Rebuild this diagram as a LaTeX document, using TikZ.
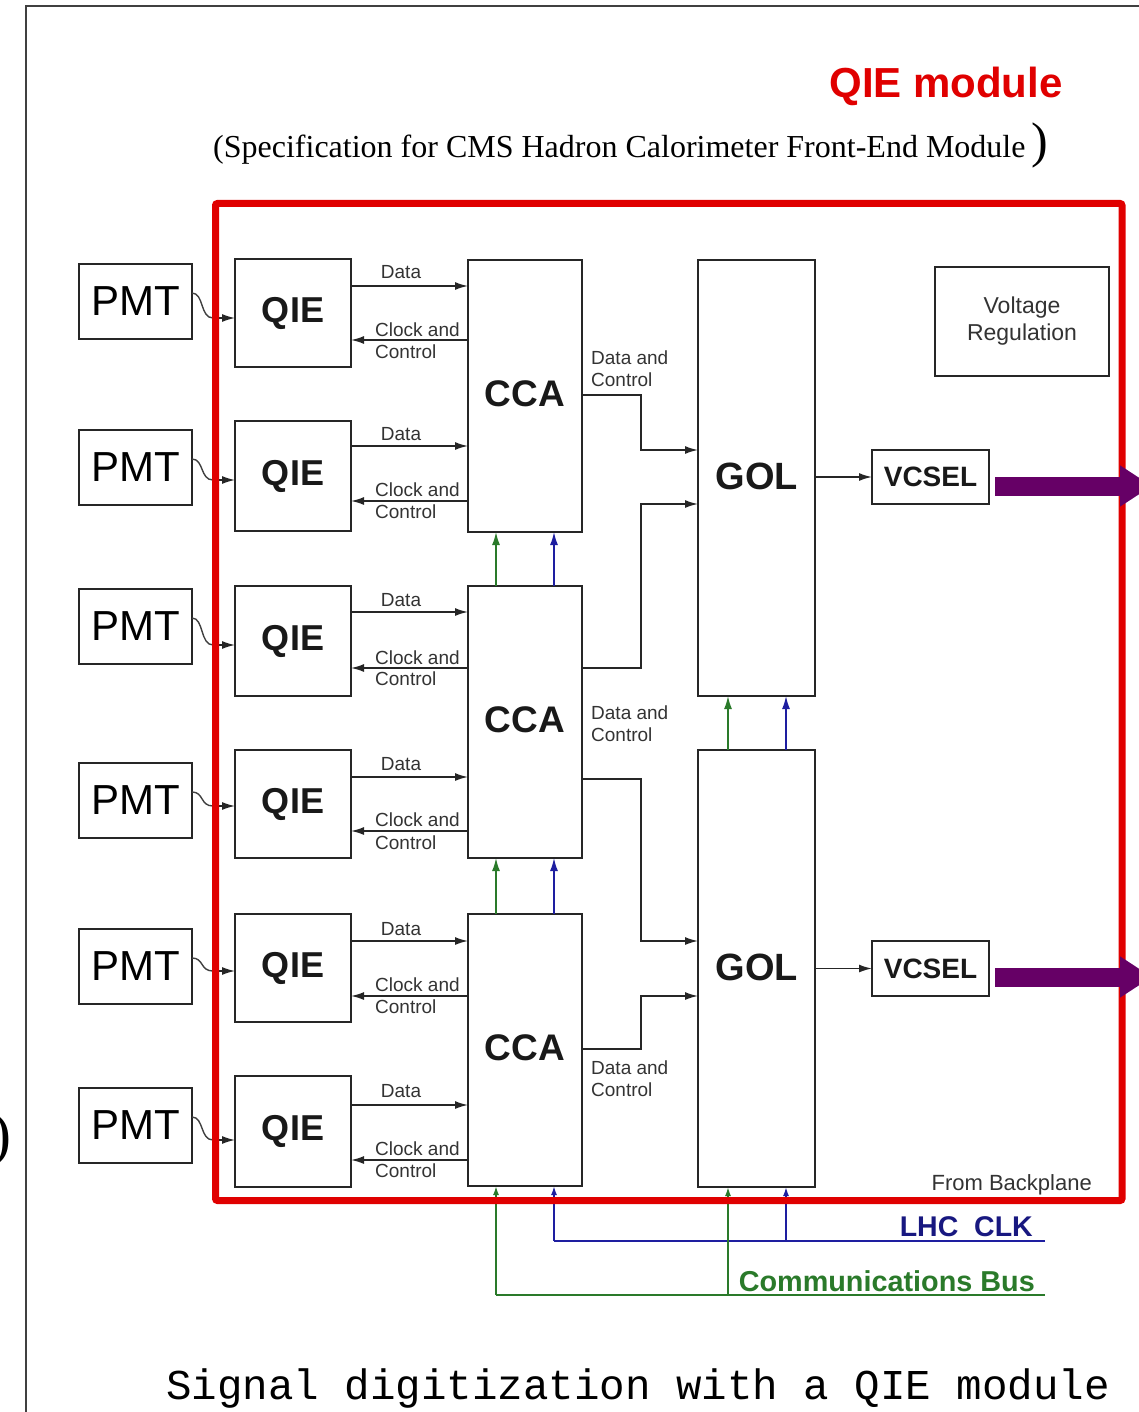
\documentclass[tikz,border=0pt]{standalone}
\usepackage{fontspec}
\setmainfont{Liberation Sans}
\newfontfamily\serifrm{Liberation Serif}
\newfontfamily\monorm{Liberation Mono}
\usetikzlibrary{arrows.meta,calc}
\definecolor{fred}{HTML}{E00000}
\definecolor{fgreen}{HTML}{2A7A2A}
\definecolor{fblue}{HTML}{1E1EA0}
\definecolor{fpurple}{HTML}{660066}
\definecolor{lbl}{HTML}{333333}
\begin{document}
\begin{tikzpicture}[x=1pt,y=-1pt,
  blk/.style={draw=black!85,line width=1.8pt,inner sep=0pt,outer sep=0pt,anchor=north west,fill=white},
  thin/.style={draw=black!85,line width=1.2pt,inner sep=0pt,outer sep=0pt,anchor=north west,fill=white},
  bigt/.style={font=\fontsize{36}{36}\selectfont\bfseries,text=black!90},
  lab/.style={font=\fontsize{19}{19}\selectfont,text=lbl,inner sep=0pt},
  arr/.style={line width=1.6pt,draw=black!85,-{Latex[length=13pt,width=8pt]}},
  garr/.style={line width=1.6pt,draw=fgreen,-{Latex[length=13pt,width=8pt]}},
  barr/.style={line width=1.6pt,draw=fblue,-{Latex[length=13pt,width=8pt]}},
  wave/.style={line width=1.4pt,draw=black!75}
]
\useasboundingbox (0,0) rectangle (1139,1412);
% slide frame
\draw[line width=1.4pt,black!75] (26,1412) -- (26,6) -- (1139,6);
% left cut paren
\node[font=\fontsize{60}{60}\selectfont\serifrm,anchor=east,inner sep=0pt] (lp) at (12,1140) {)};
% titles
\node[font=\fontsize{42}{42}\selectfont\bfseries,text=fred,inner sep=0pt] (title) at (946,86) {QIE module};
\node[font=\fontsize{32}{32}\selectfont\serifrm,anchor=base west,inner sep=0pt] (sub) at (213,158) {(Specification for CMS Hadron Calorimeter Front-End Module};
\node[font=\fontsize{50}{50}\selectfont\serifrm,anchor=base west,inner sep=0pt] (subp) at (1031,158) {)};

% PMTs
\foreach \i/\y in {1/264,2/430,3/589,4/763,5/929,6/1088}{
  \node[thin,minimum width=113pt,minimum height=75pt,font=\fontsize{42}{42}\selectfont] (P\i) at (79,\y) {PMT};
}
% QIEs
\foreach \i/\y/\h in {1/259/108,2/421/110,3/586/110,4/750/108,5/914/108,6/1076/111}{
  \node[blk,minimum width=116pt,minimum height=\h pt,bigt] (Q\i) at (235,\y) {QIE};
}
% CCAs
\foreach \i/\y in {1/260,2/586,3/914}{
  \node[blk,minimum width=114pt,minimum height=272pt] (C\i) at (468,\y) {};
}
\node[bigt,font=\fontsize{37}{37}\selectfont\bfseries] at (525,394) {CCA};
\node[bigt,font=\fontsize{37}{37}\selectfont\bfseries] at (525,720) {CCA};
\node[bigt,font=\fontsize{37}{37}\selectfont\bfseries] at (525,1048) {CCA};
% GOLs
\node[blk,minimum width=117pt,minimum height=436pt] (G1) at (698,260) {};
\node[blk,minimum width=117pt,minimum height=437pt] (G2) at (698,750) {};
\node[bigt,font=\fontsize{38}{38}\selectfont\bfseries] at (757,476) {GOL};
\node[bigt,font=\fontsize{38}{38}\selectfont\bfseries] at (757,967) {GOL};
% Voltage regulation
\node[blk,minimum width=174pt,minimum height=109pt,align=center,font=\fontsize{23}{26}\selectfont,text=lbl] (VR) at (935,267) {Voltage\\[1pt]Regulation};
% VCSELs
\node[blk,minimum width=117pt,minimum height=54pt,font=\fontsize{28}{28}\selectfont\bfseries,text=black!90] (V1) at (872,450) {VCSEL};
\node[blk,minimum width=117pt,minimum height=55pt,font=\fontsize{28}{28}\selectfont\bfseries,text=black!90] (V2) at (872,941) {VCSEL};

% PMT -> QIE waves
\foreach \i/\ya/\yb in {1/293/318,2/459/480,3/618/645,4/792/806,5/958/971,6/1117/1140}{
  \draw[wave] (P\i.east |- 0,\ya) .. controls (204,\ya) and (200,\yb) .. (213,\yb);
  \draw[arr,line width=1.4pt] (213,\yb) -- (Q\i.west |- 0,\yb);
}

% QIE <-> CCA
\foreach \q/\c/\dy/\dl/\cy/\ca/\cb in {1/1/286/272/340/330/352,2/1/446/434/501/490/512,3/2/612/600/668/658/679,4/2/777/764/831/820/843,5/3/941/929/996/985/1007,6/3/1105/1091/1160/1149/1171}{
  \draw[arr] (Q\q.east |- 0,\dy) -- (C\c.west |- 0,\dy);
  \node[lab] at (401,\dl) {Data};
  \draw[arr] (C\c.west |- 0,\cy) -- (Q\q.east |- 0,\cy);
  \node[lab,anchor=west] at (375,\ca) {Clock and};
  \node[lab,anchor=west] at (375,\cb) {Control};
}

% CCA -> GOL
\draw[arr] (C1.east |- 0,395) -- (641,395) -- (641,450) -- (G1.west |- 0,450);
\draw[arr] (C2.east |- 0,668) -- (641,668) -- (641,504) -- (G1.west |- 0,504);
\draw[arr] (C2.east |- 0,779) -- (641,779) -- (641,941) -- (G2.west |- 0,941);
\draw[arr] (C3.east |- 0,1049) -- (641,1049) -- (641,996) -- (G2.west |- 0,996);
\foreach \a/\b in {358/380,713/735,1068/1090}{
  \node[lab,anchor=west] at (591,\a) {Data and};
  \node[lab,anchor=west] at (591,\b) {Control};
}

% GOL -> VCSEL
\draw[arr] (G1.east |- V1.west) -- (V1.west);
\draw[arr] (G2.east |- V2.west) -- (V2.west);

% vertical clock/comm arrows between CCAs and GOLs
\draw[garr] (C2.north -| 496,0) -- (C1.south -| 496,0);
\draw[barr] (C2.north -| 554,0) -- (C1.south -| 554,0);
\draw[garr] (C3.north -| 496,0) -- (C2.south -| 496,0);
\draw[barr] (C3.north -| 554,0) -- (C2.south -| 554,0);
\draw[garr] (G2.north -| 728,0) -- (G1.south -| 728,0);
\draw[barr] (G2.north -| 786,0) -- (G1.south -| 786,0);

% backplane buses
\coordinate (gb) at (1045,1295);
\coordinate (bb) at (1045,1241);
\draw[line width=1.6pt,fgreen] (gb) -- (496,1295);
\draw[line width=1.6pt,fblue] (bb) -- (554,1241);
\draw[garr,-{Latex[length=9pt,width=6pt]}] (496,1295) -- (C3.south -| 496,0);
\draw[garr,-{Latex[length=9pt,width=6pt]}] (728,1295) -- (G2.south -| 728,0);
\draw[barr,-{Latex[length=9pt,width=6pt]}] (554,1241) -- (C3.south -| 554,0);
\draw[barr,-{Latex[length=9pt,width=6pt]}] (786,1241) -- (G2.south -| 786,0);
\node[font=\fontsize{28.5}{28.5}\selectfont\bfseries,text=fblue!80!black,anchor=east,inner sep=0pt] (lhc) at (1033,1227) {LHC\ \ CLK};
\node[font=\fontsize{28.8}{28.8}\selectfont\bfseries,text=fgreen,anchor=east,inner sep=0pt] (comm) at (1035,1281) {Communications Bus};

% red module frame
\draw[line width=7pt,fred,rounded corners=2pt] (215.5,203.5) rectangle (1122,1200.5);
\node[font=\fontsize{22}{22}\selectfont,text=lbl,anchor=east,inner sep=0pt] (fb) at (1092,1185) {From Backplane};

% purple output arrows
\draw[fpurple,line width=19pt,-{Triangle[length=32pt,width=39pt]}] (V1.east |- 0,486) ++(6,0) -- (1152,486);
\draw[fpurple,line width=19pt,-{Triangle[length=32pt,width=39pt]}] (V2.east |- 0,977) ++(6,0) -- (1152,977);

% caption
\node[font=\fontsize{42.5}{42.5}\selectfont\monorm,anchor=base west,inner sep=0pt] (cap) at (166,1399) {Signal digitization with a QIE module};
\end{tikzpicture}
\end{document}
